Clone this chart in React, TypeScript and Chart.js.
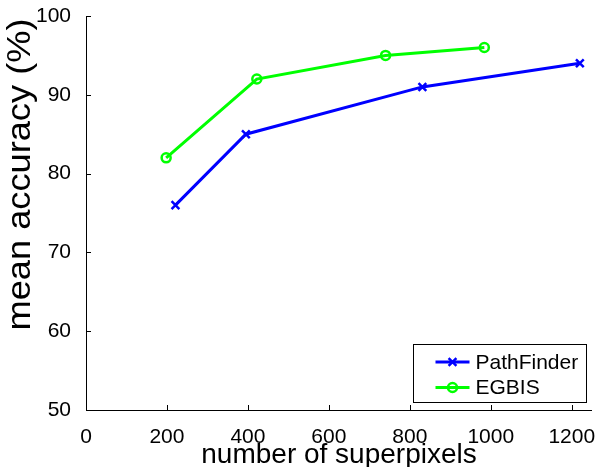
import { useEffect, useRef } from 'react';
import { Chart, registerables } from 'chart.js';
Chart.register(...registerables);

const seriesNames = ['PathFinder', 'EGBIS'];
const seriesColors = ['#0000ff', '#00ff00'];
const pathFinderX = [221, 395, 831, 1220];
const pathFinderY = [76, 85, 91, 94];
const egbisX = [198, 422, 740, 984];
const egbisY = [82, 92, 95, 96];
const xTickValues = [0, 200, 400, 600, 800, 1000, 1200];
const yTickValues = [50, 60, 70, 80, 90, 100];
const xTitle = 'number of superpixels';
const yTitle = 'mean accuracy (%)';
const FONT = '"Liberation Sans", Arial, Helvetica, sans-serif';

function drawMarker(ctx: CanvasRenderingContext2D, style: string, cx: number, cy: number, color: string) {
  ctx.save();
  ctx.strokeStyle = color;
  ctx.lineWidth = 2.5;
  ctx.beginPath();
  if (style === 'crossRot') {
    const o = 3.9;
    ctx.moveTo(cx - o, cy - o); ctx.lineTo(cx + o, cy + o);
    ctx.moveTo(cx - o, cy + o); ctx.lineTo(cx + o, cy - o);
  } else {
    ctx.arc(cx, cy, 4.5, 0, Math.PI * 2);
  }
  ctx.stroke();
  ctx.restore();
}

export default function App() {
  const ref = useRef<HTMLCanvasElement>(null);
  useEffect(() => {
    if (!ref.current) return;
    const styles = ['crossRot', 'circle'];
    const overlay = {
      id: 'overlay',
      afterDraw(chart: any) {
        const ctx: CanvasRenderingContext2D = chart.ctx;
        const { left, right, top, bottom } = chart.chartArea;
        const xs = chart.scales.x, ys = chart.scales.y;
        ctx.save();
        ctx.strokeStyle = '#000';
        ctx.lineWidth = 1;
        ctx.beginPath();
        ctx.moveTo(left + 0.5, top);
        ctx.lineTo(left + 0.5, bottom + 0.5);
        ctx.lineTo(right, bottom + 0.5);
        xTickValues.forEach(v => {
          const px = Math.round(xs.getPixelForValue(v)) + 0.5;
          ctx.moveTo(px, bottom);
          ctx.lineTo(px, bottom - 5);
        });
        yTickValues.forEach(v => {
          const py = Math.round(ys.getPixelForValue(v)) + 0.5;
          ctx.moveTo(left, py);
          ctx.lineTo(left + 5, py);
        });
        ctx.stroke();

        ctx.fillStyle = '#000';
        ctx.textAlign = 'center';
        ctx.textBaseline = 'middle';
        ctx.font = `28px ${FONT}`;
        ctx.fillText(xTitle, (left + right) / 2, 455);
        ctx.save();
        ctx.translate(20.5, 174.5);
        ctx.rotate(-Math.PI / 2);
        ctx.scale(1.065, 1);
        ctx.font = `34px ${FONT}`;
        ctx.fillText(yTitle, 0, 0);
        ctx.restore();

        // legend
        const lx = 413.5, ly = 344.5, lw = 173, lh = 58;
        ctx.fillStyle = '#fff';
        ctx.fillRect(lx, ly, lw, lh);
        ctx.strokeStyle = '#000';
        ctx.lineWidth = 1;
        ctx.strokeRect(lx, ly, lw, lh);
        const rowY = [ly + 17.5, ly + 43];
        seriesNames.forEach((name, i) => {
          const y = rowY[i];
          ctx.strokeStyle = seriesColors[i];
          ctx.lineWidth = 3;
          ctx.beginPath();
          ctx.moveTo(lx + 22, y);
          ctx.lineTo(lx + 56, y);
          ctx.stroke();
          drawMarker(ctx, styles[i], lx + 39, y, seriesColors[i]);
          ctx.fillStyle = '#000';
          ctx.font = `21px ${FONT}`;
          ctx.textAlign = 'left';
          ctx.textBaseline = 'middle';
          ctx.fillText(name, lx + 62, y + 1);
        });
        ctx.restore();
      },
    };

    const chart = new Chart(ref.current, {
      type: 'line',
      data: {
        datasets: [
          {
            label: seriesNames[0],
            data: pathFinderX.map((x, i) => ({ x, y: pathFinderY[i] })),
            borderColor: seriesColors[0],
            backgroundColor: seriesColors[0],
            borderWidth: 3,
            pointStyle: 'crossRot',
            pointRadius: 5.5,
            pointBorderWidth: 2.5,
            pointBorderColor: seriesColors[0],
            tension: 0,
          },
          {
            label: seriesNames[1],
            data: egbisX.map((x, i) => ({ x, y: egbisY[i] })),
            borderColor: seriesColors[1],
            backgroundColor: 'rgba(0,0,0,0)',
            borderWidth: 3,
            pointStyle: 'circle',
            pointRadius: 4.5,
            pointBorderWidth: 2.5,
            pointBorderColor: seriesColors[1],
            pointBackgroundColor: 'rgba(0,0,0,0)',
            tension: 0,
          },
        ],
      },
      options: {
        animation: false,
        responsive: false,
        maintainAspectRatio: false,
        devicePixelRatio: 1,
        layout: { padding: { top: 16, right: 7, left: 0, bottom: 0 } },
        plugins: { legend: { display: false }, tooltip: { enabled: false } },
        scales: {
          x: {
            type: 'linear',
            min: 0,
            max: 1250,
            grid: { display: false },
            border: { display: false },
            afterBuildTicks: (s: any) => { s.ticks = xTickValues.map(v => ({ value: v })); },
            afterFit: (s: any) => { s.height = 57; s.paddingLeft = 0; s.paddingRight = 0; },
            ticks: { font: { family: FONT, size: 21 }, color: '#000', padding: 7, maxRotation: 0, autoSkip: false, callback: (v: any) => String(v) },
          },
          y: {
            type: 'linear',
            min: 50,
            max: 100,
            grid: { display: false },
            border: { display: false },
            afterBuildTicks: (s: any) => { s.ticks = yTickValues.map(v => ({ value: v })); },
            afterFit: (s: any) => { s.width = 86; s.paddingTop = 0; s.paddingBottom = 0; },
            ticks: { font: { family: FONT, size: 21 }, color: '#000', padding: 7, callback: (v: any) => String(v) },
          },
        },
      },
      plugins: [overlay],
    });
    return () => chart.destroy();
  }, []);
  return (
    <div style={{ position: 'absolute', left: 0, top: 0, width: 600, height: 467 }}>
      <canvas ref={ref} width={600} height={467} style={{ width: 600, height: 467 }} />
    </div>
  );
}
